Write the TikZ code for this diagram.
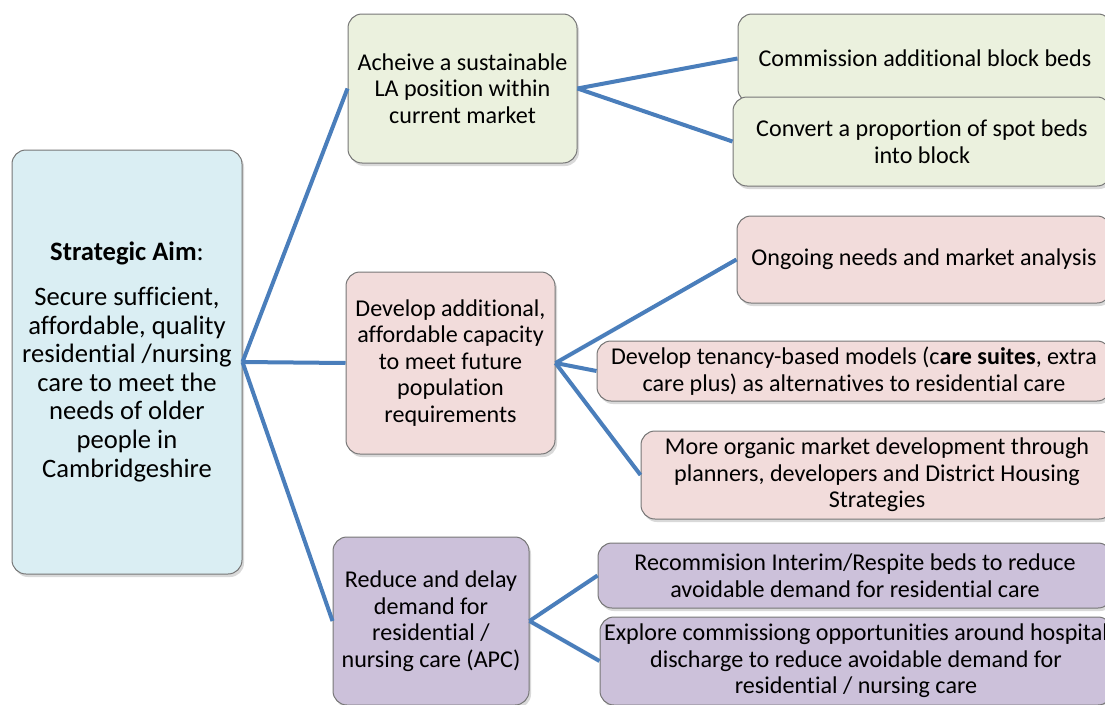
\documentclass[tikz,border=0pt]{standalone}
\usepackage{fontspec}
\setmainfont{Carlito}[Ligatures=NoCommon]
\usepackage{tikz}
\usetikzlibrary{shadows}
\tikzset{>=latex}
\definecolor{aimblue}{HTML}{DAEEF3}
\definecolor{boxgreen}{HTML}{EBF1DE}
\definecolor{boxpink}{HTML}{F2DCDB}
\definecolor{boxpurple}{HTML}{CCC1DA}
\definecolor{linkblue}{HTML}{4A7EBB}
\definecolor{edgegrey}{HTML}{767676}
\tikzset{
  box/.style={draw=edgegrey, line width=1pt, rounded corners=14pt, align=center,
    inner sep=0pt, font=\fontsize{24.1pt}{26.5pt}\selectfont,
    drop shadow={shadow xshift=2pt, shadow yshift=-3pt, opacity=0.3}},
  link/.style={draw=linkblue, line width=4pt},
}

\begin{document}
\begin{tikzpicture}[x=1pt,y=-1pt]
  \useasboundingbox (0,0) rectangle (1105,704);
  \clip (0,0) rectangle (1105,704);

  % strategic aim
  \node[box, fill=aimblue, minimum width=230pt, minimum height=424pt,
    font=\fontsize{26.6pt}{28.6pt}\selectfont] (aim) at (127,362)
    {\textbf{Strategic Aim}:\\[16pt] Secure sufficient,\\ affordable, quality\\
     residential /nursing\\ care to meet the\\ needs of older\\ people in\\ Cambridgeshire};

  % green branch
  \node[box, fill=boxgreen, minimum width=229pt, minimum height=149pt] (market) at (462.5,88.5)
    {Acheive a sustainable\\ LA position within\\ current market};
  \node[box, fill=boxgreen, minimum width=374pt, minimum height=89pt] (block) at (925,58.5)
    {Commission additional block beds};
  \node[box, fill=boxgreen, minimum width=378pt, minimum height=89pt] (spot) at (922,141.5)
    {Convert a proportion of spot beds\\ into block};

  % pink branch
  \node[box, fill=boxpink, minimum width=209pt, minimum height=182pt] (capacity) at (450.5,363)
    {Develop additional,\\ affordable capacity\\ to meet future\\ population\\ requirements};
  \node[box, fill=boxpink, minimum width=374pt, minimum height=87pt] (needs) at (924,259.5)
    {Ongoing needs and market analysis};
  \node[box, fill=boxpink, minimum width=514pt, minimum height=60pt] (tenancy) at (854,371)
    {Develop tenancy-based models (c\textbf{are suites}, extra\\ care plus) as alternatives to residential care};
  \node[box, fill=boxpink, minimum width=472pt, minimum height=88pt] (organic) at (877,475)
    {More organic market development through\\ planners, developers and District Housing\\ Strategies};

  % purple branch
  \node[box, fill=boxpurple, minimum width=196pt, minimum height=168pt] (demand) at (431,621)
    {Reduce and delay\\ demand for\\ residential /\\ nursing care (APC)};
  \node[box, fill=boxpurple, minimum width=514pt, minimum height=65pt] (respite) at (855,575.5)
    {Recommision Interim/Respite beds to reduce\\ avoidable demand for residential care};
  \node[box, fill=boxpurple, minimum width=512pt, minimum height=88pt] (discharge) at (856,661)
    {Explore commissiong opportunities around hospital\\ discharge to reduce avoidable demand for\\ residential / nursing care};

  % connectors
  \draw[link] (aim.east) -- (market.west);
  \draw[link] (aim.east) -- (capacity.west);
  \draw[link] (aim.east) -- (demand.west);
  \draw[link] (market.east) -- (block.west);
  \draw[link] (market.east) -- (spot.west);
  \draw[link] (capacity.east) -- (needs.west);
  \draw[link] (capacity.east) -- (tenancy.west);
  \draw[link] (capacity.east) -- (organic.west);
  \draw[link] (demand.east) -- (respite.west);
  \draw[link] (demand.east) -- (discharge.west);
\end{tikzpicture}
\end{document}
